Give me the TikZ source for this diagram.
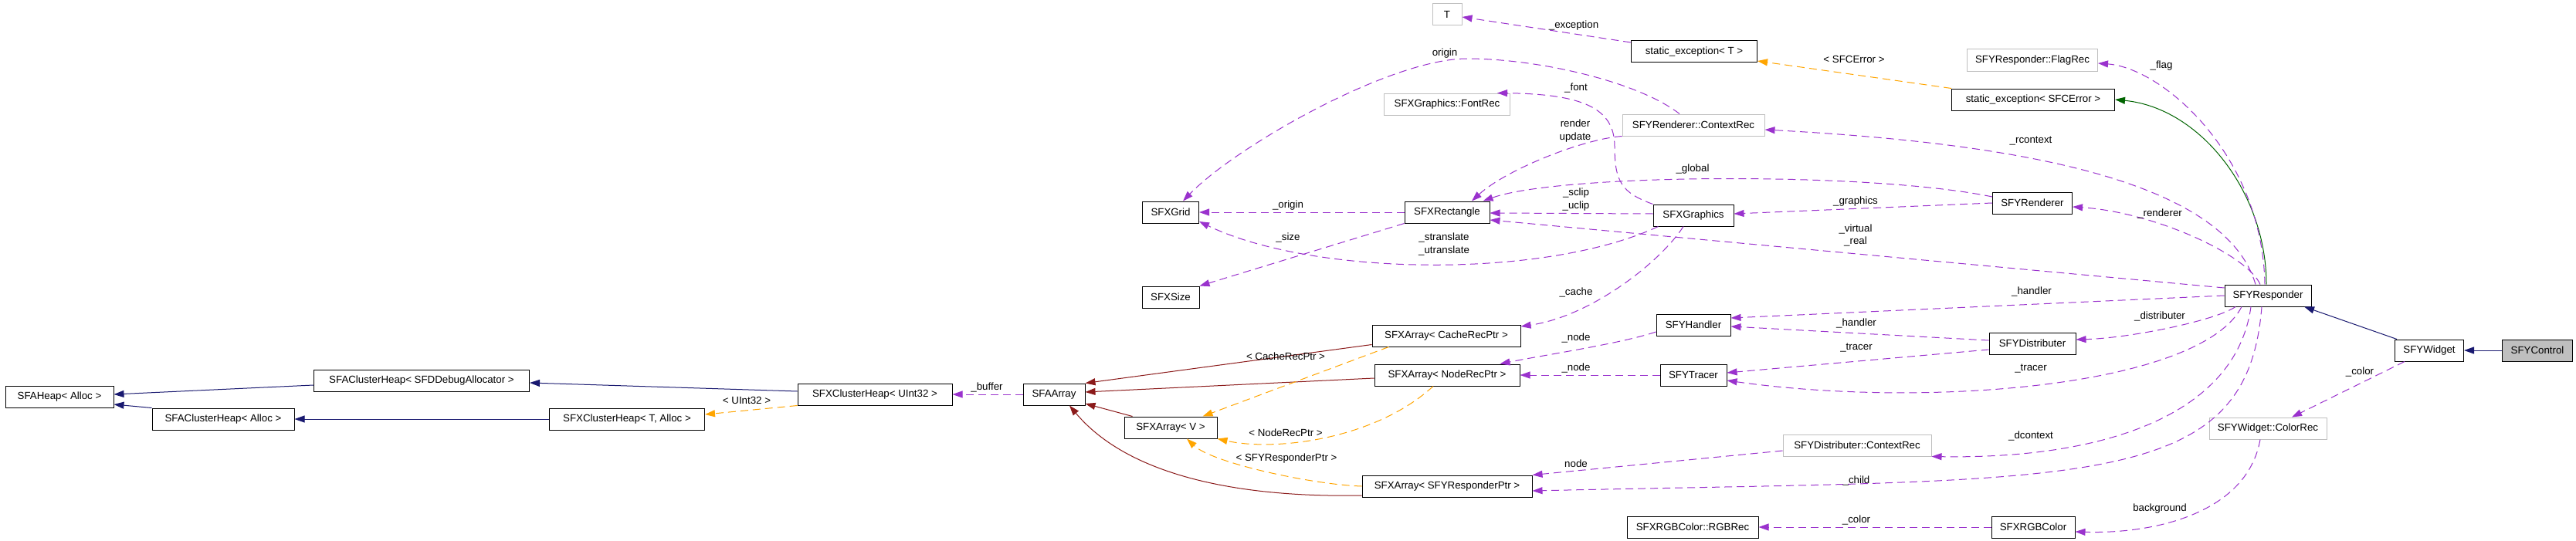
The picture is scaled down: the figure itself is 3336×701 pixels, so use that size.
\documentclass[tikz,border=0pt]{standalone}
\usepackage{fontspec}
\setmainfont{Liberation Sans}
\usepackage{xcolor}
\definecolor{EdgeBlue}{RGB}{25,25,112}
\definecolor{EdgeRed}{RGB}{139,26,26}
\definecolor{EdgeGreen}{RGB}{0,100,0}
\definecolor{EdgePurple}{RGB}{154,50,205}
\definecolor{EdgeOrange}{RGB}{255,165,0}
\definecolor{BorderGray}{RGB}{191,191,191}
\definecolor{FillGray}{RGB}{191,191,191}
\usepackage{tikz}
\usetikzlibrary{arrows.meta, positioning, calc}
\newcommand{\graphfont}{\fontsize{13.3}{17}\selectfont}
\tikzset{
  % Class box
  cbox/.style={
    rectangle, draw=black, fill=white, line width=1pt,
    minimum height=28pt, inner sep=0pt,
    font=\graphfont
  },
  % Class box variants
  cbox gray/.style={cbox, draw=BorderGray},
  cbox focus/.style={cbox, fill=FillGray},
  % Arrows
  inh/.style={EdgeBlue, line width=1pt, -{Triangle[length=13pt,width=9pt]}},
  inh prot/.style={inh, EdgeGreen},
  inh priv/.style={inh, EdgeRed},
  uses/.style={inh, EdgePurple, dash pattern=on 10pt off 6pt},
  tmpl/.style={inh, EdgeOrange, dash pattern=on 10pt off 6pt},
  % Edge label
  elabel/.style={font=\graphfont, text=black, inner sep=0pt, align=center},
}

\begin{document}
\begin{tikzpicture}[x=1pt, y=-1pt]
  \path[use as bounding box, fill=white] (0,0) rectangle (3336,701);

  %% Heaps
  \node[cbox, minimum width=140pt] (heap) at (77,514) {SFAHeap< Alloc >};
  \node[cbox, minimum width=279pt] (cheapdbg) at (546,493) {SFAClusterHeap< SFDDebugAllocator >};
  \node[cbox, minimum width=184pt] (cheap) at (289,543) {SFAClusterHeap< Alloc >};
  \node[cbox, minimum width=201pt] (xcheap) at (812,543) {SFXClusterHeap< T, Alloc >};
  \node[cbox, minimum width=200pt] (xcheapu) at (1133,511) {SFXClusterHeap< UInt32 >};

  %% Arrays and geometry
  \node[cbox, minimum width=80pt] (aarray) at (1365,511) {SFAArray};
  \node[cbox, minimum width=120pt] (xarrv) at (1516,554) {SFXArray< V >};
  \node[cbox, minimum width=74pt] (size) at (1516,385) {SFXSize};
  \node[cbox, minimum width=73pt] (grid) at (1516,275) {SFXGrid};
  \node[cbox gray, minimum width=38pt] (T) at (1874,19) {T};
  \node[cbox gray, minimum width=163pt] (fontrec) at (1874,135) {SFXGraphics::FontRec};
  \node[cbox, minimum width=110pt] (rect) at (1874,275) {SFXRectangle};
  \node[cbox, minimum width=192pt] (arrcache) at (1873,435) {SFXArray< CacheRecPtr >};
  \node[cbox, minimum width=188pt] (arrnode) at (1874,486) {SFXArray< NodeRecPtr >};
  \node[cbox, minimum width=220pt] (arrresp) at (1874,630) {SFXArray< SFYResponderPtr >};

  %% Middle column
  \node[cbox, minimum width=163pt] (sexcT) at (2194,67) {static\_exception< T >};
  \node[cbox gray, minimum width=184pt] (rctx) at (2193,162) {SFYRenderer::ContextRec};
  \node[cbox, minimum width=104pt] (graphics) at (2193,279) {SFXGraphics};
  \node[cbox, minimum width=96pt] (handler) at (2193,421) {SFYHandler};
  \node[cbox, minimum width=86pt] (tracer) at (2193,486) {SFYTracer};
  \node[cbox, minimum width=170pt] (rgbrec) at (2192,683) {SFXRGBColor::RGBRec};
  \node[cbox gray, minimum width=192pt] (dctx) at (2405,577) {SFYDistributer::ContextRec};

  %% Responder side
  \node[cbox gray, minimum width=169pt] (flagrec) at (2632,78) {SFYResponder::FlagRec};
  \node[cbox, minimum width=211pt] (sexcE) at (2633,129) {static\_exception< SFCError >};
  \node[cbox, minimum width=103pt] (renderer) at (2632,263) {SFYRenderer};
  \node[cbox, minimum width=112pt] (distrib) at (2632,445) {SFYDistributer};
  \node[cbox, minimum width=108pt] (rgb) at (2633,683) {SFXRGBColor};
  \node[cbox, minimum width=112pt] (responder) at (2937,383) {SFYResponder};
  \node[cbox gray, minimum width=152pt] (colorrec) at (2937,555) {SFYWidget::ColorRec};
  \node[cbox, minimum width=89pt] (widget) at (3146,454) {SFYWidget};
  \node[cbox focus, minimum width=91pt] (control) at (3286,454) {SFYControl};

  %% Inheritance
  \draw[inh] ([yshift=-6pt]cheapdbg.west) -- ([yshift=3pt]heap.east);
  \draw[inh] (cheap.north west) -- ([yshift=-10pt]heap.east);
  \draw[inh] (xcheap.west) -- (cheap.east);
  \draw[inh] ([yshift=4pt]xcheapu.west) -- ([yshift=-3pt]cheapdbg.east);
  \draw[inh] ([xshift=3pt]widget.north west) -- ([xshift=47pt]responder.south);
  \draw[inh] (control.west) -- (widget.east);
  \draw[inh prot] ([xshift=-2pt]responder.north) .. controls (2935,250) and (2850,140) .. (sexcE.east);
  \draw[inh priv] ([yshift=3pt]arrcache.south west) -- (aarray.north east);
  \draw[inh priv] ([yshift=-4pt]arrnode.west) -- ([yshift=3pt]aarray.east);
  \draw[inh priv] ([xshift=11pt]xarrv.north west) -- ([yshift=-12pt]aarray.east);
  \draw[inh priv] ([yshift=-12pt]arrresp.west) .. controls (1600,645) and (1460,615) .. ([xshift=20pt]aarray.south);

  %% Template instances
  \draw[tmpl] (xcheapu.south west) -- ([yshift=6pt]xcheap.east) node[elabel] at (967,519) {< UInt32 >};
  \draw[tmpl] ([xshift=22pt]arrcache.south west) -- ([xshift=-19pt]xarrv.north east) node[elabel] at (1665,462) {< CacheRecPtr >};
  \draw[tmpl] ([xshift=-18pt]arrnode.south) .. controls (1780,570) and (1650,585) .. (xarrv.south east) node[elabel] at (1665,561) {< NodeRecPtr >};
  \draw[tmpl] (arrresp.west) .. controls (1700,628) and (1570,600) .. ([xshift=21pt]xarrv.south) node[elabel] at (1666,594) {< SFYResponderPtr >};
  \draw[tmpl] (sexcE.north west) -- ([yshift=-12pt]sexcT.east) node[elabel] at (2401,77) {< SFCError >};

  %% Usage
  \draw[uses] (aarray.west) -- (xcheapu.east) node[elabel] at (1278,502) {\_buffer};
  \draw[uses] ([xshift=-13pt]graphics.south) .. controls (2150,340) and (2060,410) .. ([yshift=12pt]arrcache.east) node[elabel] at (2041,379) {\_cache};
  \draw[uses] (rect.south west) -- (size.north east) node[elabel] at (1668,308) {\_size};
  \draw[uses] (rect.west) -- (grid.east) node[elabel] at (1668,266) {\_origin};
  \draw[uses] ([xshift=7pt]graphics.south west) .. controls (2000,362) and (1700,358) .. ([yshift=-12pt]grid.east) node[elabel] at (1870,316) {\_stranslate\\\_utranslate};
  \draw[uses] ([yshift=2pt]graphics.west) -- ([yshift=-1pt]rect.east) node[elabel] at (2041,259) {\_sclip\\\_uclip};
  \draw[uses] ([yshift=8pt]renderer.west) .. controls (2420,222) and (2020,225) .. ([xshift=-9pt]rect.north east) node[elabel] at (2192,219) {\_global};
  \draw[uses] (rctx.south west) .. controls (2050,180) and (1950,220) .. ([xshift=32pt]rect.north) node[elabel] at (2040,170) {render\\update};
  \draw[uses] ([xshift=-18pt]rctx.north) .. controls (2120,105) and (1990,76) .. (1900,76) .. controls (1800,76) and (1600,190) .. ([xshift=16pt]grid.north) node[elabel] at (1871,69) {origin};
  \draw[uses] (graphics.north west) .. controls (2100,250) and (2091,235) .. (2091,190) .. controls (2091,140) and (2050,122) .. ([xshift=-17pt]fontrec.north east) node[elabel] at (2041,114) {\_font};
  \draw[uses] ([yshift=12pt]sexcT.west) -- ([yshift=-3pt]T.east) node[elabel] at (2038,33) {\_exception};
  \draw[uses] (renderer.west) -- ([yshift=2pt]graphics.east) node[elabel] at (2403,261) {\_graphics};
  \draw[uses] ([xshift=-16pt]responder.north) .. controls (2880,230) and (2600,185) .. ([yshift=-6pt]rctx.east) node[elabel] at (2630,183) {\_rcontext};
  \draw[uses] ([xshift=-4pt]responder.north) .. controls (2930,200) and (2800,88) .. ([yshift=-4pt]flagrec.east) node[elabel] at (2799,85) {\_flag};
  \draw[uses] ([xshift=-10pt]responder.north) .. controls (2910,330) and (2790,275) .. ([yshift=-5pt]renderer.east) node[elabel] at (2797,277) {\_renderer};
  \draw[uses] ([yshift=10pt]responder.west) -- ([yshift=-10pt]rect.east) node[elabel] at (2403,305) {\_virtual\\\_real};
  \draw[uses] (responder.west) -- ([yshift=9pt]handler.east) node[elabel] at (2631,378) {\_handler};
  \draw[uses] ([yshift=4pt]distrib.west) -- ([yshift=-2pt]handler.east) node[elabel] at (2404,419) {\_handler};
  \draw[uses] ([yshift=-8pt]distrib.west) -- ([yshift=3pt]tracer.east) node[elabel] at (2404,451) {\_tracer};
  \draw[uses] ([xshift=-34pt]responder.south) .. controls (2850,500) and (2500,530) .. ([yshift=-7pt]tracer.east) node[elabel] at (2630,478) {\_tracer};
  \draw[uses] ([xshift=-42pt]responder.south) .. controls (2870,415) and (2760,438) .. ([yshift=5pt]distrib.east) node[elabel] at (2797,410) {\_distributer};
  \draw[uses] ([xshift=-22pt]responder.south) .. controls (2895,540) and (2720,595) .. (dctx.south east) node[elabel] at (2630,565) {\_dcontext};
  \draw[uses] ([xshift=-8pt]responder.south) .. controls (2910,640) and (2700,620) .. ([yshift=-6pt]arrresp.east) node[elabel] at (2404,623) {\_child};
  \draw[uses] ([yshift=-7pt]dctx.west) -- (arrresp.north east) node[elabel] at (2041,601) {node};
  \draw[uses] ([yshift=-9pt]handler.west) .. controls (2100,445) and (2000,460) .. ([xshift=-26pt]arrnode.north east) node[elabel] at (2041,438) {\_node};
  \draw[uses] (tracer.west) -- (arrnode.east) node[elabel] at (2041,477) {\_node};
  \draw[uses] (rgb.west) -- (rgbrec.east) node[elabel] at (2404,674) {\_color};
  \draw[uses] ([xshift=-10pt]colorrec.south) .. controls (2910,665) and (2790,692) .. ([yshift=-6pt]rgb.east) node[elabel] at (2797,659) {background};
  \draw[uses] ([xshift=13pt]widget.south west) -- ([xshift=31pt]colorrec.north) node[elabel] at (3056,482) {\_color};

\end{tikzpicture}
\end{document}
